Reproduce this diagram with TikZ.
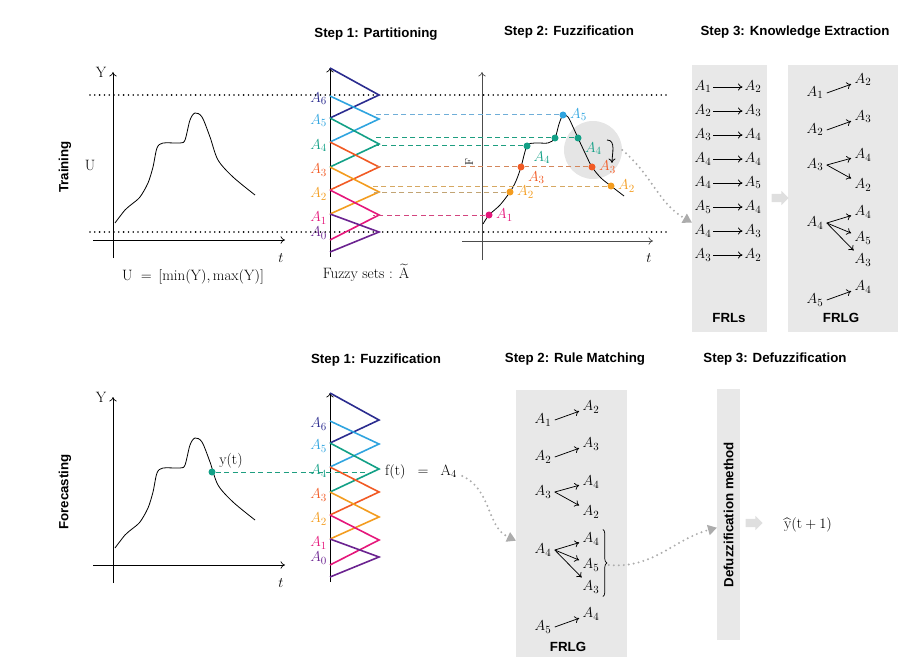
\documentclass[tikz,border=0pt]{standalone}
\usepackage{amsmath}
\usepackage{fontspec}
\newfontfamily\headfont{Liberation Sans}
\usetikzlibrary{arrows.meta,shapes.arrows,decorations.pathreplacing,positioning}

\definecolor{colzero}{HTML}{6B2390}
\definecolor{colone}{HTML}{E5177B}
\definecolor{coltwo}{HTML}{F39C1F}
\definecolor{colthree}{HTML}{F15A24}
\definecolor{colfour}{HTML}{12A086}
\definecolor{colfive}{HTML}{2FA4DF}
\definecolor{colsix}{HTML}{2B2C8F}
\definecolor{guideblue}{HTML}{6FAED8}
\definecolor{guidegreen}{HTML}{1E9E80}
\definecolor{guidebrown}{HTML}{D4875C}
\definecolor{guidegold}{HTML}{D6A862}
\definecolor{guidetan}{HTML}{C2A474}
\definecolor{guidepink}{HTML}{D3457F}
\definecolor{boxgray}{HTML}{E8E8E8}

\tikzset{
  steptitle/.style = {font=\headfont\bfseries\fontsize{13.3}{15}\selectfont},
  ubound/.style = {line width=1.8pt, dash pattern=on 0pt off 4.8pt, line cap=round},
  guide/.style = {line width=1pt, dash pattern=on 5pt off 3.5pt},
  graybox/.style = {fill=boxgray, draw=none, anchor=north west, inner sep=0pt},
  fzdot/.style = {circle, fill=#1, inner sep=0pt, minimum size=7pt},
  rulearrow/.style = {-{To[length=4.5pt,width=7pt]}, line width=0.75pt},
  flowarrow/.style = {gray!65, line width=2.2pt, dash pattern=on 0pt off 5pt, line cap=round, -{Triangle[length=9pt,width=10pt]}},
  bigarrow/.style = {single arrow, fill=gray!25, draw=none, inner sep=4pt, single arrow head extend=3pt, minimum height=17pt},
  axisline/.style = {-{To[length=4.5pt,width=7.5pt]}, line width=0.7pt},
}

\begin{document}
\begin{tikzpicture}[x=1pt, y=-1pt, font=\fontsize{15}{17}\selectfont]
    \useasboundingbox (0,0) rectangle (917,671);

    % headings
    \node[steptitle] (h-part) at (376,34) {Step 1: Partitioning};
    \node[steptitle] (h-fuzz) at (569,32) {Step 2: Fuzzification};
    \node[steptitle] (h-know) at (795,32) {Step 3: Knowledge Extraction};
    \node[steptitle] (h-fz2) at (376,360) {Step 1: Fuzzification};
    \node[steptitle] (h-match) at (575,359) {Step 2: Rule Matching};
    \node[steptitle] (h-defz) at (775,359) {Step 3: Defuzzification};

    \node[steptitle, rotate=90] (trn) at (65,167) {Training};
    \node[steptitle, rotate=90] (fcst) at (65,492) {Forecasting};

    % universe bounds
    \draw[ubound] (90,95) -- (668,95);
    \draw[ubound] (90,232) -- (668,232);

    % series and fuzzy sets, training and forecasting rows
    \foreach \pn/\dy in {tr/0, fc/325} {
      \begin{scope}[shift={(0,\dy)}]
        \draw[axisline] (93,240) -- (285,240);
        \draw[axisline] (113,258) -- (113,72);
        \node (\pn-ylab) at (101,72) {Y};
        \node (\pn-tlab) at (281,258) {$t$};
        \draw[line width=0.8pt] plot[smooth] coordinates {(115,223) (125,210) (132,204)
          (140,197) (148,183) (153,167) (157,148) (163,143) (180,143) (185,140)
          (190,120) (195,113) (202,117) (210,137) (218,160) (233,177) (255,195)};

        \draw[axisline] (330,257) -- (330,68);
        \foreach \col/\ta/\tb/\tc/\idx/\ly in {colsix/68/95/118/6/99,
            colfive/96/119/142/5/121, colfour/118/144/167/4/146,
            colthree/142/167/190/3/170, coltwo/167/192/214/2/194,
            colone/190/215/240/1/218, colzero/214/232/252/0/233} {
          \draw[\col, line width=1.6pt] (330,\ta) -- (379,\tb) -- (330,\tc);
          \node[text=\col, anchor=east, inner sep=1pt] (\pn-a\idx) at (328,\ly) {$A_\idx$};
        }
      \end{scope}
    }

    \node (ulab) at (90,165) {U};
    \node (urange) at (193,277) {$\mathrm{U}\ =\,[\min(\mathrm{Y}),\max(\mathrm{Y})]$};
    \node[inner sep=1pt] (fsets) at (366,273) {Fuzzy sets : $\widetilde{\mathrm{A}}$};

    % fuzzification of the training series
    \node[circle, fill=gray!20, minimum size=58pt, inner sep=0pt] (lens) at (593,150) {};
    \draw[axisline, black!70] (462,241) -- (653,241);
    \draw[axisline, black!70] (482,260) -- (482,72);
    \node (fz-t) at (649,258) {$t$};
    \node[rotate=90, font=\fontsize{11}{13}\selectfont] (fz-f) at (469,162) {F};
    \draw[line width=0.8pt] plot[smooth] coordinates {(483,224) (489,215) (500,205)
      (510,192) (516,181) (521,167) (527,146) (535,143) (548,143) (555,138) (559,124)
      (563,115) (568,117) (573,127) (578,138) (585,153) (592,167) (601,178) (611,186)
      (624,196)};

    \node[fzdot=colone, label={[text=colone]0:$A_1$}] (p1) at (489,215) {};
    \node[fzdot=coltwo, label={[text=coltwo]0:$A_2$}] (p2) at (510,192) {};
    \node[fzdot=colthree, label={[text=colthree]-15:$A_3$}] (p3) at (521,167) {};
    \node[fzdot=colfour, label={[text=colfour]-35:$A_4$}] (p4) at (527,146) {};
    \node[fzdot=colfour] (p4b) at (555,138) {};
    \node[fzdot=colfive, label={[text=colfive]0:$A_5$}] (p5) at (563,115) {};
    \node[fzdot=colfour, label={[text=colfour]-15:$A_4$}] (p6) at (578,138) {};
    \node[fzdot=colthree, label={[text=colthree]0:$A_3$}] (p7) at (592,167) {};
    \node[fzdot=coltwo, label={[text=coltwo]0:$A_2$}] (p8) at (611,186) {};

    \coordinate (pe) at (373,0);
    \draw[guide, guideblue] (p5) -- (p5 -| pe);
    \draw[guide, guidegreen] (p6) -- (p4b);
    \draw[guide, guidegreen] (p4b) -- (p4b -| pe);
    \draw[guide, guidegreen] (p4) -- (p4 -| pe);
    \draw[guide, guidebrown] (p7) -- (p3);
    \draw[guide, guidebrown] (p3) -- (p3 -| pe);
    \draw[guide, guidegold] (p8) -- (p8 -| pe);
    \draw[guide, guidetan] (p2) -- (p2 -| pe);
    \draw[guide, guidepink] (p1) -- (p1 -| pe);

    \coordinate (turn-a) at (607,140);
    \coordinate (turn-b) at (612,163);
    \draw[-{To[length=4.5pt,width=7pt]}, line width=0.8pt] (turn-a) to[out=0, in=90] (turn-b);

    % knowledge extraction
    \node[graybox, minimum width=75pt, minimum height=267pt] (frls) at (692,65) {};
    \node[graybox, minimum width=110pt, minimum height=267pt] (frlg) at (788,65) {};
    \node[steptitle] (frls-t) at (729,318) {FRLs};
    \node[steptitle] (frlg-t) at (841,318) {FRLG};
    \node[bigarrow] (kx-arr) at (778,198) {};
    \draw[flowarrow] (lens.east) to[out=-40, in=150] ([yshift=-24pt]frls.west);

    \foreach \src/\dst [count=\row] in {1/2,2/3,3/4,4/4,4/5,5/4,4/3,3/2} {
      \node[inner sep=2pt] (frl-l\row) at (703,63+24*\row) {$A_\src$};
      \node[inner sep=2pt] (frl-r\row) at (753,63+24*\row) {$A_\dst$};
      \draw[rulearrow] (frl-l\row) -- (frl-r\row);
    }

    % rule matching
    \node[graybox, minimum width=111pt, minimum height=267pt] (match) at (516,390) {};
    \node[steptitle] (match-t) at (568,647) {FRLG};

    \foreach \g/\bx/\by in {kx/815/93, rm/543/420} {
      \begin{scope}[shift={(\bx,\by)}]
        \node (\g-s1) at (0,0) {$A_1$};
        \node (\g-d1) at (48,-13) {$A_2$};
        \node (\g-s2) at (0,37) {$A_2$};
        \node (\g-d2) at (48,24) {$A_3$};
        \node (\g-s3) at (0,72) {$A_3$};
        \node (\g-d3a) at (48,62) {$A_4$};
        \node (\g-d3b) at (48,92) {$A_2$};
        \node (\g-s4) at (0,130) {$A_4$};
        \node (\g-d4a) at (48,119) {$A_4$};
        \node (\g-d4b) at (48,145) {$A_5$};
        \node (\g-d4c) at (48,167) {$A_3$};
        \node (\g-s5) at (0,207) {$A_5$};
        \node (\g-d5) at (48,194) {$A_4$};
      \end{scope}
      \draw[rulearrow] (\g-s1.east) -- (\g-d1);
      \draw[rulearrow] (\g-s2.east) -- (\g-d2);
      \draw[rulearrow] (\g-s3.east) -- (\g-d3a);
      \draw[rulearrow] (\g-s3.east) -- (\g-d3b);
      \draw[rulearrow] (\g-s4.east) -- (\g-d4a);
      \draw[rulearrow] (\g-s4.east) -- (\g-d4b);
      \draw[rulearrow] (\g-s4.east) -- (\g-d4c);
      \draw[rulearrow] (\g-s5.east) -- (\g-d5);
    }

    \draw[decorate, decoration={brace, amplitude=4pt}, line width=0.7pt]
      (rm-d4a.north east) -- (rm-d4c.south east);
    \coordinate (brace) at ([xshift=6pt]rm-d4b.east);

    % forecasting fuzzification
    \node[fzdot=colfour] (yt) at (212,472) {};
    \node (yt-lab) at (231,461) {y(t)};
    \node (ft) at (421,472) {$\mathrm{f(t)}\;\;=\;\;\mathrm{A_4}$};
    \draw[guide, guidegreen] (yt) -- ([xshift=-14pt]ft.west);
    \draw[flowarrow] ([xshift=2pt, yshift=-4pt]ft.east) to[out=-25, in=155] ([yshift=-17pt]match.west);

    % defuzzification
    \node[graybox, minimum width=23pt, minimum height=251pt] (defz) at (717,389) {};
    \node[steptitle, rotate=90] (defz-t) at (defz.center) {Defuzzification method};
    \draw[flowarrow] (brace) to[out=-5, in=195] ([yshift=-13pt]defz.west);
    \node[bigarrow] (df-arr) at (752,523) {};
    \node[inner sep=1pt] (yhat) at (808,525) {$\widehat{\mathrm{y}}(\mathrm{t}+1)$};
\end{tikzpicture}
\end{document}
